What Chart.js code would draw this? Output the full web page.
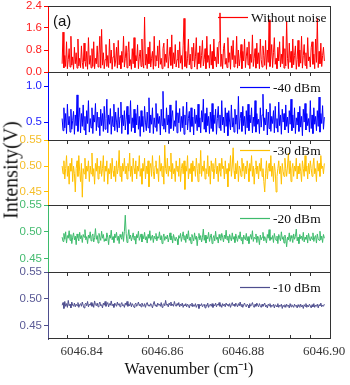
<!DOCTYPE html>
<html>
<head>
<meta charset="utf-8">
<script src="https://cdn.jsdelivr.net/npm/chart.js@4.4.1/dist/chart.umd.min.js"></script>
<style>
  html,body{margin:0;padding:0;background:#fff;}
  #wrap{position:relative;width:350px;height:385px;background:#fff;overflow:hidden;}
  canvas{position:absolute;left:0;}
  #ytitle{position:absolute;left:11px;top:170px;transform:translate(-50%,-50%) rotate(-90deg);
    font:20px 'Liberation Serif','Times New Roman',serif;color:#111;white-space:nowrap;}
</style>
</head>
<body>
<div id="wrap">
  <canvas id="c1"></canvas>
  <canvas id="c2"></canvas>
  <canvas id="c3"></canvas>
  <canvas id="c4"></canvas>
  <canvas id="c5"></canvas>
  <div id="ytitle">Intensity(V)</div>
</div>
<script>
// ---------------- data ----------------
const xStart = 6046.8337;
const xEnd = 6046.8986;
const xLabelTicks = [6046.84, 6046.86, 6046.88, 6046.90];
const xMinorTicks = [6046.835, 6046.84, 6046.845, 6046.85, 6046.855, 6046.86, 6046.865, 6046.87, 6046.875, 6046.88, 6046.885, 6046.89, 6046.895, 6046.90];

const seriesNames = ['Without noise', '-40 dBm', '-30 dBm', '-20 dBm', '-10 dBm'];

const redTicks = [0.0, 0.8, 1.6, 2.4];
const blueTicks = [0.5, 1.0];
const yellowTicks = [0.45, 0.50, 0.55];
const greenTicks = [0.45, 0.50, 0.55];
const purpleTicks = [0.45, 0.50, 0.55];

const withoutNoise = [
0.3,1.45,0.15,0.6,0.2,1.1,0.12,0.45,0.85,0.18,1.3,0.25,0.55,0.1,0.9,
0.3,0.7,0.14,1.2,0.22,0.5,0.16,0.95,0.35,0.12,1.05,0.4,0.2,0.75,0.1,
1.25,0.28,0.6,0.15,0.85,0.2,1.1,0.12,0.5,0.3,0.95,0.18,0.65,1.3,0.14,
1.55,0.25,0.7,0.12,0.45,1.0,0.2,0.6,0.16,1.2,0.32,0.8,0.1,0.55,1.05,
0.2,0.4,0.9,0.14,1.15,0.26,0.6,0.12,0.75,0.35,1.3,0.18,0.5,0.95,0.15,
0.7,1.1,0.22,0.45,0.1,0.85,0.3,1.25,0.16,0.6,0.4,1.0,0.12,0.55,0.8,
0.2,1.2,0.35,0.14,2.0,0.25,0.65,0.12,0.9,0.3,1.1,0.18,0.5,0.75,0.1,
1.3,0.22,0.6,0.4,0.95,0.15,1.15,0.28,0.5,0.12,0.85,1.05,0.2,0.65,0.35,
1.2,0.14,0.55,0.9,0.24,1.35,0.12,0.7,0.3,1.0,0.18,0.45,0.8,0.15,1.1,
0.32,0.6,0.1,0.95,1.95,0.2,0.75,0.14,0.5,1.2,0.26,0.65,0.12,0.9,0.4,
1.05,0.18,0.55,1.25,0.1,0.7,0.3,0.95,0.16,0.6,1.15,0.22,0.45,0.85,0.12,
1.3,0.35,0.6,0.14,1.0,0.25,0.75,0.12,1.2,0.4,0.55,0.18,0.9,0.3,1.1,
2.15,0.2,0.65,0.12,0.85,1.05,0.28,0.5,0.16,1.25,0.35,0.7,0.1,0.95,0.45,
1.15,0.18,0.6,0.3,1.3,0.14,0.8,0.22,0.5,1.0,0.12,0.75,0.4,1.2,0.16,
0.55,0.9,0.26,1.1,0.12,0.65,0.35,1.35,0.2,0.5,0.85,0.14,1.05,0.3,0.7,
0.12,1.2,0.45,0.18,0.95,0.6,0.24,1.15,0.1,0.8,0.35,1.9,0.2,0.55,1.0,
0.16,0.7,1.25,0.28,0.5,0.12,0.9,0.4,1.1,0.18,0.65,0.3,1.3,0.14,0.85,
0.22,1.85,0.5,0.12,1.05,0.35,0.75,0.16,1.2,0.26,0.6,0.95,0.1,0.45,1.15,
0.2,0.8,0.32,1.3,0.14,0.6,1.0,0.24,0.7,0.12,1.25,0.4,0.55,0.18,0.9,
1.1,0.28,0.65,0.12,1.2,0.35,1.95,0.16,0.75,0.3,1.05,0.2,0.6,0.9,0.4
];

const minus40 = [
0.55,0.38,0.7,0.42,0.62,0.34,0.75,0.46,0.58,0.36,0.68,0.4,0.52,0.65,0.33,
0.6,0.45,0.88,0.37,0.56,0.7,0.35,0.62,0.44,0.74,0.39,0.58,0.32,0.66,0.48,
0.8,0.36,0.55,0.42,0.7,0.34,0.6,0.5,0.76,0.38,0.64,0.43,0.57,0.31,0.68,
0.45,0.62,0.37,0.72,0.4,0.55,0.82,0.35,0.6,0.47,0.69,0.33,0.58,0.44,0.75,
0.38,0.64,0.5,0.36,0.7,0.42,0.57,0.78,0.34,0.6,0.45,0.66,0.39,0.54,0.72,
0.33,0.6,0.48,0.8,0.37,0.56,0.42,0.68,0.35,0.62,0.46,0.74,0.4,0.58,0.3,
0.66,0.44,0.58,0.36,0.72,0.5,0.38,0.64,0.42,0.84,0.35,0.6,0.47,0.7,0.34,
0.56,0.43,0.76,0.37,0.62,0.48,0.58,0.32,0.68,0.45,0.93,0.4,0.55,0.36,0.7,
0.46,0.6,0.34,0.74,0.41,0.57,0.66,0.38,0.52,0.44,0.8,0.35,0.63,0.49,0.69,
0.37,0.58,0.42,0.72,0.33,0.6,0.46,0.78,0.39,0.55,0.65,0.36,0.7,0.44,0.57,
0.32,0.68,0.48,0.6,0.38,0.75,0.43,0.56,0.35,0.66,0.5,0.82,0.4,0.62,0.36,
0.7,0.45,0.58,0.34,0.64,0.41,0.76,0.37,0.6,0.48,0.68,0.33,0.55,0.72,0.42,
0.6,0.38,0.8,0.46,0.57,0.35,0.7,0.44,0.63,0.31,0.66,0.5,0.39,0.74,0.43,
0.56,0.36,0.68,0.47,0.6,0.34,0.86,0.4,0.55,0.64,0.37,0.72,0.45,0.58,0.33,
0.66,0.42,0.75,0.38,0.6,0.49,0.7,0.35,0.57,0.44,0.8,0.36,0.62,0.47,0.54,
0.34,0.7,0.43,0.6,0.89,0.38,0.56,0.46,0.68,0.32,0.64,0.41,0.76,0.37,0.58,
0.48,0.66,0.35,0.72,0.42,0.55,0.36,0.78,0.45,0.6,0.33,0.68,0.5,0.62,0.39,
0.74,0.44,0.57,0.35,0.66,0.47,0.82,0.38,0.6,0.42,0.7,0.34,0.56,0.46,0.64,
0.37,0.72,0.43,0.58,0.31,0.68,0.5,0.76,0.39,0.62,0.45,0.55,0.36,0.8,0.41,
0.6,0.34,0.7,0.47,0.58,0.38,0.66,0.44,0.85,0.36,0.62,0.48,0.73,0.4,0.57
];

const minus30 = [
0.5,0.485,0.51,0.475,0.495,0.52,0.48,0.5,0.465,0.505,0.49,0.515,0.47,0.5,0.485,
0.45,0.495,0.51,0.48,0.52,0.49,0.47,0.505,0.44,0.495,0.485,0.515,0.475,0.5,0.49,
0.51,0.47,0.5,0.485,0.525,0.48,0.495,0.465,0.505,0.49,0.515,0.475,0.5,0.485,0.51,
0.48,0.495,0.52,0.47,0.5,0.49,0.51,0.465,0.495,0.485,0.505,0.475,0.515,0.49,0.48,
0.5,0.47,0.51,0.485,0.495,0.53,0.48,0.5,0.47,0.505,0.49,0.515,0.485,0.5,0.475,
0.505,0.49,0.525,0.48,0.5,0.47,0.515,0.495,0.485,0.51,0.475,0.5,0.49,0.52,0.48,
0.495,0.465,0.505,0.49,0.515,0.475,0.5,0.485,0.51,0.46,0.495,0.505,0.48,0.52,0.49,
0.475,0.5,0.51,0.485,0.495,0.47,0.52,0.49,0.505,0.48,0.5,0.465,0.54,0.495,0.485,
0.515,0.48,0.5,0.49,0.525,0.475,0.505,0.485,0.495,0.47,0.51,0.49,0.5,0.48,0.515,
0.47,0.495,0.505,0.485,0.51,0.455,0.5,0.49,0.52,0.475,0.495,0.485,0.505,0.47,0.51,
0.49,0.5,0.48,0.515,0.495,0.47,0.505,0.485,0.53,0.48,0.5,0.49,0.51,0.475,0.495,
0.485,0.52,0.48,0.5,0.465,0.51,0.49,0.505,0.475,0.495,0.515,0.485,0.5,0.47,0.505,
0.49,0.48,0.515,0.495,0.5,0.475,0.51,0.485,0.495,0.46,0.505,0.49,0.52,0.48,0.5,
0.535,0.49,0.475,0.505,0.485,0.51,0.47,0.5,0.495,0.48,0.515,0.49,0.505,0.475,0.5,
0.485,0.51,0.495,0.47,0.505,0.49,0.52,0.48,0.5,0.465,0.495,0.51,0.485,0.5,0.475,
0.505,0.49,0.515,0.48,0.495,0.47,0.45,0.485,0.51,0.475,0.495,0.505,0.49,0.52,0.48,
0.5,0.47,0.505,0.49,0.45,0.48,0.495,0.51,0.485,0.5,0.465,0.505,0.49,0.48,0.515,
0.495,0.48,0.5,0.525,0.485,0.51,0.47,0.495,0.505,0.48,0.5,0.49,0.515,0.475,0.5,
0.485,0.505,0.49,0.47,0.51,0.495,0.48,0.52,0.49,0.5,0.475,0.505,0.485,0.51,0.495,
0.48,0.5,0.515,0.485,0.495,0.47,0.51,0.49,0.505,0.48,0.52,0.495,0.5,0.485,0.505
];

const minus20 = [
0.49,0.482,0.497,0.486,0.5,0.479,0.493,0.488,0.502,0.484,0.495,0.478,0.49,0.498,0.485,
0.492,0.476,0.496,0.489,0.483,0.499,0.487,0.493,0.48,0.495,0.49,0.504,0.485,0.491,0.478,
0.494,0.488,0.5,0.483,0.492,0.496,0.481,0.489,0.506,0.486,0.493,0.479,0.497,0.49,0.484,
0.501,0.488,0.495,0.482,0.487,0.483,0.498,0.49,0.476,0.494,0.488,0.503,0.485,0.491,0.48,
0.496,0.489,0.499,0.484,0.492,0.478,0.495,0.49,0.486,0.5,0.482,0.501,0.531,0.497,0.48,
0.491,0.504,0.487,0.494,0.483,0.49,0.498,0.485,0.492,0.477,0.495,0.489,0.501,0.484,0.49,
0.496,0.481,0.493,0.487,0.499,0.485,0.491,0.479,0.495,0.488,0.502,0.484,0.49,0.494,0.48,
0.492,0.487,0.497,0.483,0.491,0.488,0.5,0.485,0.493,0.478,0.49,0.496,0.484,0.491,0.487,
0.494,0.481,0.489,0.498,0.485,0.492,0.479,0.495,0.488,0.483,0.49,0.486,0.476,0.493,0.488,
0.497,0.482,0.491,0.5,0.485,0.493,0.48,0.496,0.487,0.502,0.484,0.49,0.478,0.495,0.489,
0.483,0.498,0.486,0.492,0.474,0.49,0.497,0.485,0.493,0.481,0.489,0.505,0.484,0.494,0.479,
0.491,0.487,0.499,0.482,0.49,0.496,0.478,0.488,0.493,0.483,0.501,0.486,0.49,0.479,0.495,
0.488,0.484,0.497,0.49,0.481,0.494,0.487,0.503,0.485,0.492,0.479,0.495,0.489,0.483,0.498,
0.486,0.491,0.48,0.496,0.488,0.482,0.493,0.487,0.5,0.484,0.49,0.477,0.494,0.488,0.485,
0.497,0.483,0.491,0.478,0.489,0.495,0.486,0.502,0.482,0.49,0.487,0.496,0.48,0.492,0.488,
0.476,0.494,0.485,0.49,0.499,0.483,0.491,0.487,0.479,0.495,0.488,0.504,0.484,0.49,0.486,
0.493,0.48,0.497,0.488,0.484,0.492,0.478,0.495,0.489,0.483,0.5,0.486,0.491,0.479,0.494,
0.487,0.472,0.49,0.485,0.498,0.482,0.493,0.488,0.48,0.496,0.486,0.491,0.505,0.483,0.49,
0.478,0.495,0.487,0.492,0.484,0.499,0.481,0.49,0.486,0.494,0.479,0.497,0.488,0.483,0.491,
0.486,0.498,0.482,0.49,0.493,0.479,0.496,0.487,0.484,0.501,0.485,0.492,0.48,0.495,0.488
];

const minus10 = [
0.488,0.493,0.482,0.495,0.486,0.491,0.484,0.497,0.487,0.49,0.483,0.494,0.488,0.486,0.492,
0.485,0.49,0.487,0.493,0.484,0.489,0.491,0.486,0.494,0.488,0.483,0.49,0.492,0.487,0.495,
0.485,0.49,0.488,0.493,0.486,0.491,0.484,0.496,0.489,0.487,0.492,0.485,0.49,0.494,0.487,
0.489,0.483,0.492,0.488,0.495,0.486,0.49,0.493,0.485,0.491,0.488,0.496,0.487,0.49,0.484,
0.492,0.489,0.486,0.494,0.488,0.491,0.485,0.49,0.493,0.487,0.489,0.484,0.492,0.488,0.495,
0.486,0.49,0.487,0.493,0.485,0.491,0.488,0.484,0.49,0.492,0.486,0.489,0.494,0.487,0.49,
0.485,0.492,0.488,0.486,0.491,0.484,0.49,0.493,0.487,0.489,0.486,0.491,0.488,0.483,0.49,
0.495,0.487,0.489,0.485,0.492,0.488,0.49,0.486,0.493,0.484,0.489,0.491,0.487,0.497,0.488,
0.49,0.485,0.492,0.488,0.494,0.487,0.49,0.486,0.495,0.489,0.486,0.491,0.488,0.493,0.485,
0.49,0.487,0.492,0.484,0.489,0.487,0.491,0.485,0.49,0.488,0.483,0.49,0.487,0.492,0.485,
0.489,0.486,0.491,0.484,0.488,0.49,0.482,0.489,0.487,0.491,0.485,0.488,0.49,0.483,0.489,
0.486,0.492,0.484,0.488,0.49,0.486,0.491,0.484,0.489,0.487,0.492,0.485,0.49,0.488,0.493,
0.486,0.489,0.484,0.491,0.487,0.49,0.485,0.492,0.488,0.49,0.486,0.491,0.484,0.489,0.493,
0.487,0.49,0.486,0.492,0.489,0.485,0.491,0.487,0.494,0.486,0.49,0.484,0.489,0.492,0.487,
0.485,0.49,0.488,0.483,0.491,0.486,0.489,0.493,0.487,0.484,0.49,0.486,0.492,0.488,0.485,
0.491,0.487,0.484,0.49,0.486,0.489,0.492,0.485,0.488,0.483,0.49,0.487,0.491,0.484,0.488,
0.486,0.49,0.483,0.489,0.487,0.485,0.491,0.484,0.488,0.486,0.49,0.482,0.488,0.485,0.489,
0.484,0.49,0.486,0.488,0.483,0.491,0.485,0.489,0.487,0.484,0.49,0.486,0.488,0.483,0.489,
0.486,0.484,0.49,0.485,0.488,0.482,0.489,0.486,0.491,0.484,0.488,0.485,0.49,0.487,0.483,
0.489,0.485,0.491,0.484,0.488,0.486,0.49,0.483,0.489,0.487,0.492,0.485,0.488,0.486,0.49
];

// ---------------- layout / style ----------------
const W = 350, H = 385, PLOT_LEFT = 48, PLOT_RIGHT = 330;
const X_MIN = 6046.8302, X_MAX = 6046.90;
const FRAME = '#333333';
const SERIF = "'Liberation Serif','Times New Roman',serif";
const SANS = "'Liberation Sans',Arial,sans-serif";

const panels = [
  {id:'c1', top:6,   bottom:72,  values:withoutNoise, name:seriesNames[0], color:'#ff0000', tickColor:'#ff2020', yMin:0,     yMax:2.4,  ticks:redTicks,    dec:1, legY:17,  legX:218, topTicks:false},
  {id:'c2', top:72,  bottom:140, values:minus40,      name:seriesNames[1], color:'#0000ff', tickColor:'#2020ff', yMin:0.25,  yMax:1.2,  ticks:blueTicks,   dec:1, legY:87,  legX:240, topTicks:true},
  {id:'c3', top:140, bottom:205, values:minus30,      name:seriesNames[2], color:'#ffc000', tickColor:'#f5be2a', yMin:0.425, yMax:0.55, ticks:yellowTicks, dec:2, legY:150, legX:240, topTicks:true},
  {id:'c4', top:205, bottom:272, values:minus20,      name:seriesNames[3], color:'#3dbb6c', tickColor:'#45bb70', yMin:0.425, yMax:0.55, ticks:greenTicks,  dec:2, legY:218, legX:240, topTicks:true},
  {id:'c5', top:272, bottom:339, values:minus10,      name:seriesNames[4], color:'#4e4e8e', tickColor:'#5a5a96', yMin:0.425, yMax:0.55, ticks:purpleTicks, dec:2, legY:287, legX:240, topTicks:true, last:true}
];

function makeDecor(p, cTop, panelLabel) {
  return {
    id: 'decor_' + p.id,
    afterDatasetsDraw(chart) {
      const {ctx, chartArea: a} = chart;
      const x = chart.scales.x;
      ctx.save();
      ctx.strokeStyle = FRAME;
      ctx.lineWidth = 1;
      ctx.beginPath();
      ctx.moveTo(a.left, a.top + 0.5); ctx.lineTo(a.right + 0.5, a.top + 0.5);
      ctx.moveTo(a.right + 0.5, a.top); ctx.lineTo(a.right + 0.5, a.bottom);
      if (p.last) { ctx.moveTo(a.left, a.bottom - 0.5); ctx.lineTo(a.right + 1, a.bottom - 0.5); }
      if (p.topTicks) {
        xMinorTicks.forEach(v => {
          const px = Math.round(x.getPixelForValue(v)) + 0.5;
          ctx.moveTo(px, a.top); ctx.lineTo(px, a.top + 4);
        });
      }
      if (p.last) {
        xMinorTicks.forEach(v => {
          const px = Math.round(x.getPixelForValue(v)) + 0.5;
          ctx.moveTo(px, a.bottom); ctx.lineTo(px, a.bottom - 4);
        });
      }
      ctx.stroke();
      ctx.restore();
      // legend sample + text
      ctx.save();
      const ly = p.legY - cTop;
      ctx.strokeStyle = p.color;
      ctx.lineWidth = 1.2;
      ctx.beginPath();
      ctx.moveTo(p.legX, ly + 0.5); ctx.lineTo(p.legX + 30, ly + 0.5);
      ctx.stroke();
      ctx.fillStyle = '#111';
      ctx.font = '13.5px ' + SERIF;
      ctx.textAlign = 'left';
      ctx.textBaseline = 'middle';
      ctx.fillText(p.name, p.legX + 33, ly + 1);
      if (panelLabel) {
        ctx.font = '15px ' + SANS;
        ctx.fillText(panelLabel, 53, 22 - cTop);
      }
      ctx.restore();
    }
  };
}

panels.forEach((p, i) => {
  const cv = document.getElementById(p.id);
  const cTop = p.top - 10;
  const cH = p.last ? (H - cTop) : (p.bottom - p.top + 20);
  cv.width = W; cv.height = cH;
  cv.style.width = W + 'px'; cv.style.height = cH + 'px';
  cv.style.top = cTop + 'px';
  const n = p.values.length;
  const pts = p.values.map((v, k) => ({x: xStart + k * (xEnd - xStart) / (n - 1), y: v}));
  new Chart(cv, {
    type: 'line',
    data: {datasets: [{data: pts, borderColor: p.color, borderWidth: 1, pointRadius: 0, tension: 0, fill: false}]},
    options: {
      responsive: false,
      animation: false,
      devicePixelRatio: 1,
      events: [],
      layout: {padding: {left: 0, right: W - PLOT_RIGHT, top: 10, bottom: p.last ? 0 : 10}},
      plugins: {
        legend: {display: false},
        tooltip: {enabled: false}
      },
      scales: {
        x: {
          type: 'linear',
          min: X_MIN, max: X_MAX,
          display: !!p.last,
          position: 'bottom',
          grid: {display: false, drawTicks: false},
          border: {display: false},
          afterBuildTicks: s => { s.ticks = xLabelTicks.map(v => ({value: v})); },
          afterFit: s => {
            s.paddingLeft = 0; s.paddingRight = 0;
            s.height = p.last ? 46 : 0;
          },
          ticks: {
            color: '#333',
            font: {family: SERIF, size: 13},
            padding: 5,
            labelOffset: -6,
            maxRotation: 0,
            autoSkip: false,
            callback: v => v.toFixed(2)
          },
          title: {
            display: true,
            text: 'Wavenumber (cm⁻¹)',
            color: '#111',
            font: {family: SERIF, size: 16},
            padding: {top: 0, bottom: 6}
          }
        },
        y: {
          type: 'linear',
          position: 'left',
          min: p.yMin, max: p.yMax,
          afterBuildTicks: s => { s.ticks = p.ticks.map(v => ({value: v})); },
          afterFit: s => { s.width = PLOT_LEFT; s.paddingTop = 0; s.paddingBottom = 0; },
          grid: {display: true, drawOnChartArea: false, drawTicks: true, tickLength: 4, color: p.color},
          border: {display: true, color: p.color, width: 1},
          ticks: {
            color: p.tickColor,
            font: {family: SANS, size: 11.5},
            padding: 2,
            autoSkip: false,
            callback: v => Number(v).toFixed(p.dec)
          }
        }
      }
    },
    plugins: [makeDecor(p, cTop, i === 0 ? '(a)' : null)]
  });
});
</script>
</body>
</html>
